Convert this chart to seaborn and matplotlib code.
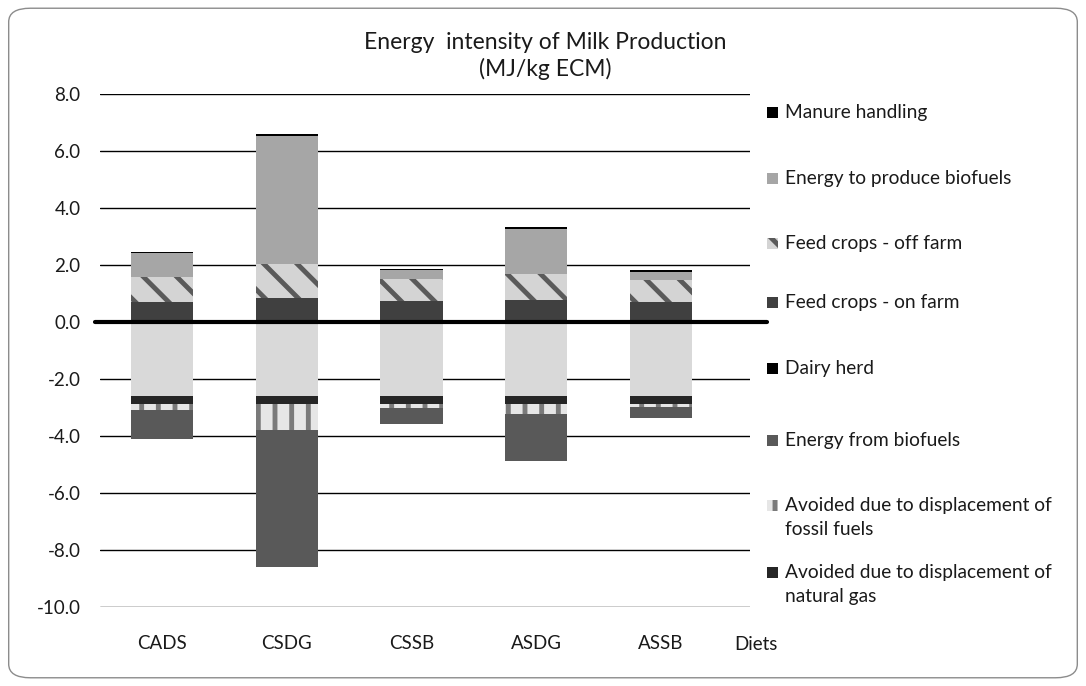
import matplotlib
matplotlib.use("Agg")
import matplotlib.pyplot as plt
from matplotlib.patches import FancyBboxPatch, Rectangle
import numpy as np
import pandas as pd
import seaborn as sns

# --- data (MJ/kg ECM) ---
diets = ["CADS", "CSDG", "CSSB", "ASDG", "ASSB"]

# negative side, stacked downward from zero
base_credit = [-2.58, -2.58, -2.59, -2.59, -2.59]
avoided_gas = [-0.30, -0.30, -0.27, -0.27, -0.27]
avoided_fossil = [-0.19, -0.90, -0.14, -0.37, -0.11]
energy_from_bio = [-1.03, -4.81, -0.58, -1.63, -0.39]

# positive side, stacked upward from zero
dairy_herd = [0.04, 0.04, 0.04, 0.04, 0.04]
feed_on_farm = [0.67, 0.81, 0.69, 0.72, 0.66]
feed_off_farm = [0.88, 1.19, 0.79, 0.91, 0.79]
energy_to_bio = [0.83, 4.50, 0.30, 1.60, 0.28]
manure = [0.05, 0.05, 0.05, 0.05, 0.05]

# series in drawing order: (label, values, facecolor, hatch colour, hatch, in legend)
series = [
    ("Grey base", base_credit, "#d9d9d9", None, None, False),
    ("Avoided due to displacement of\nnatural gas", avoided_gas, "#262626", None, None, True),
    ("Avoided due to displacement of\nfossil fuels", avoided_fossil, "#e6e6e6", "#7a7a7a", "|", True),
    ("Energy from biofuels", energy_from_bio, "#595959", None, None, True),
    ("Dairy herd", dairy_herd, "#000000", None, None, True),
    ("Feed crops - on farm", feed_on_farm, "#404040", None, None, True),
    ("Feed crops - off farm", feed_off_farm, "#d4d4d4", "#5a5a5a", "\\", True),
    ("Energy to produce biofuels", energy_to_bio, "#a6a6a6", None, None, True),
    ("Manure handling", manure, "#000000", None, None, True),
]

sns.set_style("white")
plt.rcParams["font.family"] = ["Lato", "DejaVu Sans"]
plt.rcParams["hatch.linewidth"] = 3.5

fig = plt.figure(figsize=(10.86, 6.86), dpi=100)
ax = fig.add_axes([0.092, 0.115, 0.599, 0.748])

# rounded frame around the whole chart
fig.patches.append(FancyBboxPatch((0.008, 0.012), 0.984, 0.976,
                                  boxstyle="round,pad=0,rounding_size=0.02",
                                  transform=fig.transFigure, facecolor="none",
                                  edgecolor="#8c8c8c", linewidth=1.0))

pos_bottom = np.zeros(len(diets))
neg_bottom = np.zeros(len(diets))
for label, vals, fc, hc, hatch, _ in series:
    vals = np.array(vals)
    bottom = np.where(vals >= 0, pos_bottom, neg_bottom)
    df = pd.DataFrame({"diet": diets, "value": vals})
    sns.barplot(data=df, x="diet", y="value", bottom=bottom, color=fc,
                width=0.5, errorbar=None, ax=ax, saturation=1,
                hatch=hatch, edgecolor=hc if hc else fc, linewidth=0)
    pos_bottom = pos_bottom + np.clip(vals, 0, None)
    neg_bottom = neg_bottom + np.clip(vals, None, 0)

ax.set_ylim(-10, 8)
ax.set_xlim(-0.5, 4.72)
ax.set_yticks(np.arange(-10, 8.1, 2))
ax.set_yticklabels([f"{v:.1f}" for v in np.arange(-10, 8.1, 2)])
ax.yaxis.grid(True, color="#000000", linewidth=1.0)
ax.set_axisbelow(True)
for s in ax.spines.values():
    s.set_visible(False)
ax.tick_params(axis="both", length=0, labelsize=13.5, colors="#1a1a1a")
ax.tick_params(axis="y", pad=14)
ax.tick_params(axis="x", pad=20)
ax.set_xlabel("")
ax.set_ylabel("")

# heavy zero line reaching slightly past the plot area
ax.axhline(0, xmin=-0.008, xmax=1.025, color="black", linewidth=3, clip_on=False, zorder=5)

fig.text(0.676, 1 - 645 / 686, "Diets", fontsize=13.5, color="#1a1a1a", va="center")

fig.text(0.502, 1 - 56 / 686, "Energy  intensity of Milk Production\n(MJ/kg ECM)",
         ha="center", va="center", fontsize=16.5, color="#1a1a1a", linespacing=1.3)

# legend on the right, listed top to bottom in reverse of drawing order
legend_y = [112, 178, 243, 302, 368, 440, 505, 572]
entries = [s for s in series if s[5]][::-1]
for (label, _, fc, hc, hatch, _), py in zip(entries, legend_y):
    yf = 1 - py / 686
    fig.patches.append(Rectangle((767 / 1086, yf - 5.5 / 686), 11 / 1086, 11 / 686,
                                 transform=fig.transFigure, facecolor=fc,
                                 edgecolor=hc if hc else fc, hatch=hatch,
                                 linewidth=0))
    fig.text(785 / 1086, yf + 8 / 686, label, fontsize=13.8, color="#1a1a1a",
             va="top", linespacing=1.5)

fig.savefig("out.png", dpi=100)
